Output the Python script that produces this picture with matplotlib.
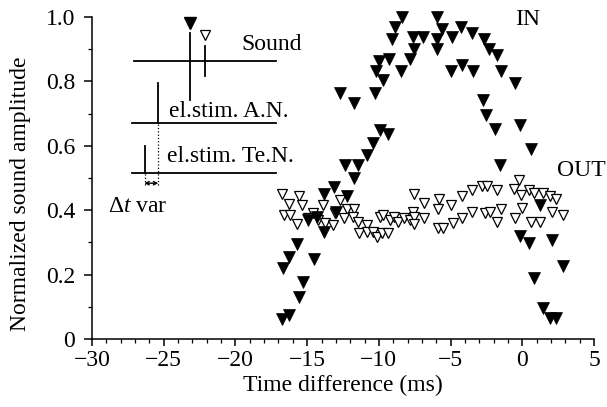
import numpy as np
import matplotlib.pyplot as plt
from matplotlib.ticker import MultipleLocator, FuncFormatter

plt.rcParams['font.family'] = ['Liberation Serif', 'DejaVu Serif']
plt.rcParams['mathtext.fontset'] = 'custom'
plt.rcParams['mathtext.it'] = 'Liberation Serif:italic'
plt.rcParams['mathtext.rm'] = 'Liberation Serif'

# IN (filled triangles)
in_x = [-8.39, -5.95, -8.86, -5.58, -4.29, -3.49, -9.07, -7.64, -6.91, -5.93, -4.88, -2.65,
        -7.55, -5.95, -2.35, -1.77, -7.86, -9.96, -9.26, -10.19, -8.46, -4.95, -4.19, -3.44,
        -1.49, -9.72, -0.49, -12.72, -11.72, -10.26, -2.74, -2.51, -1.88, -0.14, 0.61, -1.54,
        -9.91, -9.33, -10.42, -10.84, -12.35, -11.49, -11.70, -13.15, -13.84, -12.25, -12.98, -14.33,
        -14.91, -13.82, -15.68, -16.24, -14.52, -16.70, -15.30, -15.54, -16.77, -16.24,
        1.21, -0.14, 0.44, 2.07, 2.84, 0.84, 1.44, 1.95, 2.34]
in_y = [1.0, 1.0, 0.97, 0.963, 0.97, 0.95, 0.931, 0.939, 0.939, 0.933, 0.939, 0.931,
        0.90, 0.90, 0.90, 0.882, 0.869, 0.863, 0.869, 0.833, 0.833, 0.833, 0.851, 0.833,
        0.833, 0.804, 0.796, 0.763, 0.734, 0.764, 0.744, 0.696, 0.651, 0.665, 0.589, 0.54,
        0.648, 0.637, 0.609, 0.571, 0.542, 0.54, 0.499, 0.472, 0.452, 0.444, 0.395, 0.38,
        0.37, 0.333, 0.295, 0.254, 0.248, 0.22, 0.178, 0.131, 0.062, 0.075,
        0.416, 0.32, 0.299, 0.307, 0.227, 0.189, 0.095, 0.064, 0.064]

# OUT (open triangles)
out_x = [-16.73, -15.54, -16.24, -15.34, -13.87, -12.70, -16.61, -16.19, -15.70, -14.56,
         -14.91, -14.21, -13.75, -13.17, -13.05, -12.23, -11.72, -12.42, -11.81, -11.49,
         -10.84, -11.42, -10.84, -10.38, -10.14, -9.79, -9.33, -9.91, -9.68, -9.21,
         -8.98, -8.70, -8.28, -7.82, -7.61, -7.54, -7.54, -7.54, -6.84, -5.81,
         -5.90, -4.94, -4.19, -3.49, -2.79, -2.44, -1.74, -0.22, -0.58, -0.09,
         0.44, 0.84, 1.44, 1.91, 2.34, -6.87, -5.90, -5.51, -4.84, -4.21,
         -3.51, -2.62, -2.28, -1.74, -1.49, -0.49, -0.02, 0.61, 1.21, 2.07, 2.84]
out_y = [0.451, 0.443, 0.420, 0.415, 0.416, 0.432, 0.385, 0.385, 0.357, 0.392,
         0.375, 0.370, 0.359, 0.354, 0.390, 0.403, 0.403, 0.375, 0.378, 0.364,
         0.354, 0.328, 0.333, 0.333, 0.318, 0.328, 0.328, 0.378, 0.385, 0.370,
         0.378, 0.364, 0.375, 0.370, 0.395, 0.378, 0.357, 0.450, 0.421, 0.434,
         0.403, 0.416, 0.444, 0.463, 0.475, 0.474, 0.463, 0.493, 0.465, 0.447,
         0.463, 0.454, 0.454, 0.444, 0.434, 0.375, 0.345, 0.345, 0.359, 0.375,
         0.395, 0.390, 0.395, 0.364, 0.403, 0.375, 0.406, 0.364, 0.364, 0.395, 0.385]

FS = 17

fig = plt.figure(figsize=(6.07, 4.07), dpi=100)
ax = fig.add_axes([0.1516, 0.167, 0.827, 0.791])

ax.plot(out_x, out_y, 'v', ms=7, mfc='white', mec='black', mew=0.9, clip_on=False, zorder=3)
ax.plot(in_x, in_y, 'v', ms=8, mfc='black', mec='black', mew=0.5, clip_on=False, zorder=4)

ax.set_xlim(-30, 5)
ax.set_ylim(0, 1.0)
ax.spines['top'].set_visible(False)
ax.spines['right'].set_visible(False)
for s in ['left', 'bottom']:
    ax.spines[s].set_linewidth(1.1)

ax.xaxis.set_major_locator(MultipleLocator(5))
ax.xaxis.set_minor_locator(MultipleLocator(1))
ax.yaxis.set_major_locator(MultipleLocator(0.2))
ax.yaxis.set_minor_locator(MultipleLocator(0.1))
ax.yaxis.set_major_formatter(FuncFormatter(lambda v, p: '0' if abs(v) < 1e-9 else f'{v:.1f}'))
ax.xaxis.set_major_formatter(FuncFormatter(lambda v, p: f'{int(round(v))}'.replace('-', '\u2212')))
ax.tick_params(axis='x', which='major', direction='out', length=5, width=1.1, labelsize=FS, pad=3)
ax.tick_params(axis='y', which='major', direction='out', length=6, width=1.1, labelsize=FS, pad=6)
ax.tick_params(which='minor', direction='out', length=3, width=0.9)

ax.set_xlabel('Time difference (ms)', fontsize=FS, labelpad=3)
ax.set_ylabel('Normalized sound amplitude', fontsize=FS)
ax.yaxis.set_label_coords(-0.122, 0.45)

# labels
ax.text(-0.49, 0.994, 'IN', fontsize=FS, va='center', ha='left')
ax.text(2.44, 0.525, 'OUT', fontsize=FS, va='center', ha='left')

# stimulus diagram
k = dict(color='black', lw=1.3, clip_on=False)
ax.plot([-27.1, -17.2], [0.863, 0.863], **k)
ax.plot([-23.17, -23.17], [0.744, 0.952], **k)
ax.plot([-23.17], [0.982], 'v', ms=8, color='black', clip_on=False)
ax.plot([-22.10, -22.10], [0.817, 0.910], **k)
ax.plot([-22.10], [0.944], 'v', ms=6.5, mfc='white', mec='black', mew=0.9, clip_on=False)
ax.text(-19.6, 0.915, 'Sound', fontsize=FS, va='center', ha='left')

ax.plot([-27.2, -17.2], [0.670, 0.670], **k)
ax.plot([-25.42, -25.42], [0.670, 0.794], **k)
ax.text(-24.6, 0.708, 'el.stim. A.N.', fontsize=FS, va='center', ha='left')

ax.plot([-27.2, -17.2], [0.515, 0.515], **k)
ax.plot([-26.31, -26.31], [0.515, 0.600], **k)
ax.text(-24.75, 0.568, 'el.stim. Te.N.', fontsize=FS, va='center', ha='left')

ax.plot([-25.42, -25.42], [0.478, 0.670], color='black', lw=0.9, ls=':', clip_on=False)
ax.plot([-26.31, -26.31], [0.478, 0.515], color='black', lw=0.9, ls=':', clip_on=False)
ax.annotate('', xy=(-26.35, 0.484), xytext=(-25.38, 0.484),
            arrowprops=dict(arrowstyle='<->', lw=1.0, mutation_scale=6, shrinkA=0, shrinkB=0))
ax.text(-28.9, 0.413, r'$\Delta t$ var', fontsize=FS, va='center', ha='left')

plt.savefig('out.png', dpi=100)
